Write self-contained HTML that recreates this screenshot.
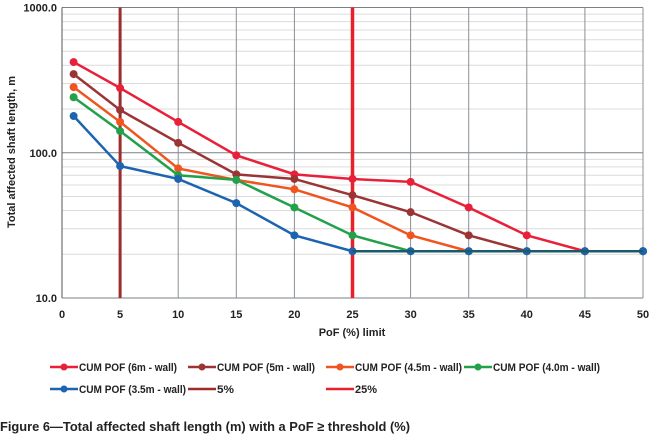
<!DOCTYPE html>
<html><head><meta charset="utf-8"><style>
body{margin:0;background:#fff;width:659px;height:440px;overflow:hidden;font-family:"Liberation Sans",sans-serif}
</style></head><body>
<svg id="c" width="659" height="440" font-family="Liberation Sans, sans-serif"></svg>
<script>
const xValues=[1,5,10,15,20,25,30,35,40,45,50];
const s6=[421,279,163,96,71,66,63,42,27,21,21];
const s5=[348,197,117,71,66,51,39,27,21,21,21];
const s45=[283,163,78,65,56,42,27,21,21,21,21];
const s40=[241,141,70,65,42,27,21,21,21,21,21];
const s35=[179,81,66,45,27,21,21,21,21,21,21];
const xTicks=[0,5,10,15,20,25,30,35,40,45,50];
const yTicks=[10,100,1000];
const vLines=[5,25];
const svg=document.getElementById('c');
const NS='http://www.w3.org/2000/svg';
const L=62,R=643,T=7.5,B=298;
const xs=v=>L+(v/50)*(R-L);
const ys=v=>B-(Math.log10(v)-1)/2*(B-T);
function mk(t,a,p){const e=document.createElementNS(NS,t);for(const k in a)e.setAttribute(k,a[k]);(p||svg).appendChild(e);return e;}
for(let d=10;d<1000;d*=10)for(let m=2;m<10;m++){
 const g=mk('line',{x1:L,x2:R,y1:ys(d*m),y2:ys(d*m),stroke:'#dcdcdc','stroke-width':1});
 
 
}
yTicks.forEach(v=>{
 const g=mk('line',{x1:L,x2:R,y1:ys(v),y2:ys(v),stroke:'#7a8085','stroke-width':1});
 
 
 const t=mk('text',{x:L-5,y:ys(v)+4,'text-anchor':'end','font-size':11,'font-weight':'bold',fill:'#222'});
 t.textContent=v.toFixed(1);
 
 
});
xTicks.forEach(v=>{
 const g=mk('line',{x1:xs(v),x2:xs(v),y1:T,y2:B,stroke:'#8a9095','stroke-width':1});
 
 
 const t=mk('text',{x:xs(v),y:318,'text-anchor':'middle','font-size':11,'font-weight':'bold',fill:'#222'});
 t.textContent=v;
 
 
});
const ax=mk('line',{x1:L,x2:L,y1:T,y2:B,stroke:'#555','stroke-width':1});


const vl5=mk('line',{x1:xs(vLines[0]),x2:xs(vLines[0]),y1:T,y2:B,stroke:'#9b2d2a','stroke-width':3});


const vl25=mk('line',{x1:xs(vLines[1]),x2:xs(vLines[1]),y1:T,y2:B,stroke:'#e8202a','stroke-width':3.5});


const series=[[s6,'#e8203a','series-6m'],[s5,'#9b3535','series-5m'],[s45,'#ee5520','series-4-5m'],[s40,'#22a04a','series-4-0m'],[s35,'#1d64b0','series-3-5m']];
series.forEach(([d,c,n])=>{
 const g=mk('g',{});
 
 
 const p=mk('polyline',{points:d.map((v,i)=>xs(xValues[i])+','+ys(v)).join(' '),fill:'none',stroke:c,'stroke-width':2.5},g);
 
 
 d.forEach((v,i)=>{const m=mk('circle',{cx:xs(xValues[i]),cy:ys(v),r:4,fill:c},g);
  
  });
});
const bt=mk('polyline',{points:xs(25)+','+ys(21)+' '+xs(50)+','+ys(21),stroke:'#1a5a6a','stroke-width':2.5,fill:'none'});


const xt=mk('text',{x:352,y:336,'text-anchor':'middle','font-size':11,'font-weight':'bold',fill:'#222'});
xt.textContent='PoF (%) limit';


const yt=mk('text',{x:0,y:0,transform:'translate(15,152) rotate(-90)','text-anchor':'middle','font-size':11,'font-weight':'bold',fill:'#222'});
yt.textContent='Total affected shaft length, m';


const leg=[['CUM POF (6m - wall)','#e8203a',50,367,1,98],['CUM POF (5m - wall)','#9b3535',188,367,1,98],['CUM POF (4.5m - wall)','#ee5520',326,367,1,107],['CUM POF (4.0m - wall)','#22a04a',464,367,1,107],['CUM POF (3.5m - wall)','#1d64b0',50,389,1,107],['5%','#9b2d2a',188,389,0,17],['25%','#e8202a',326,389,0,22]];
leg.forEach(([t,c,x,y,dot,w])=>{
 const g=mk('g',{});
 
 
 mk('line',{x1:x,x2:x+28,y1:y,y2:y,stroke:c,'stroke-width':2.5},g);
 if(dot)mk('circle',{cx:x+14,cy:y,r:3.5,fill:c},g);
 const tx=mk('text',{x:x+29,y:y+4,'font-size':11,'font-weight':'bold',fill:'#222',textLength:w,lengthAdjust:'spacingAndGlyphs'},g);
 tx.textContent=t;
});
const cap=mk('text',{x:0,y:431,'font-size':13,'font-weight':'bold',fill:'#222',textLength:410,lengthAdjust:'spacingAndGlyphs'});
cap.textContent='Figure 6\u2014Total affected shaft length (m) with a PoF \u2265 threshold (%)';


</script>
</body></html>
